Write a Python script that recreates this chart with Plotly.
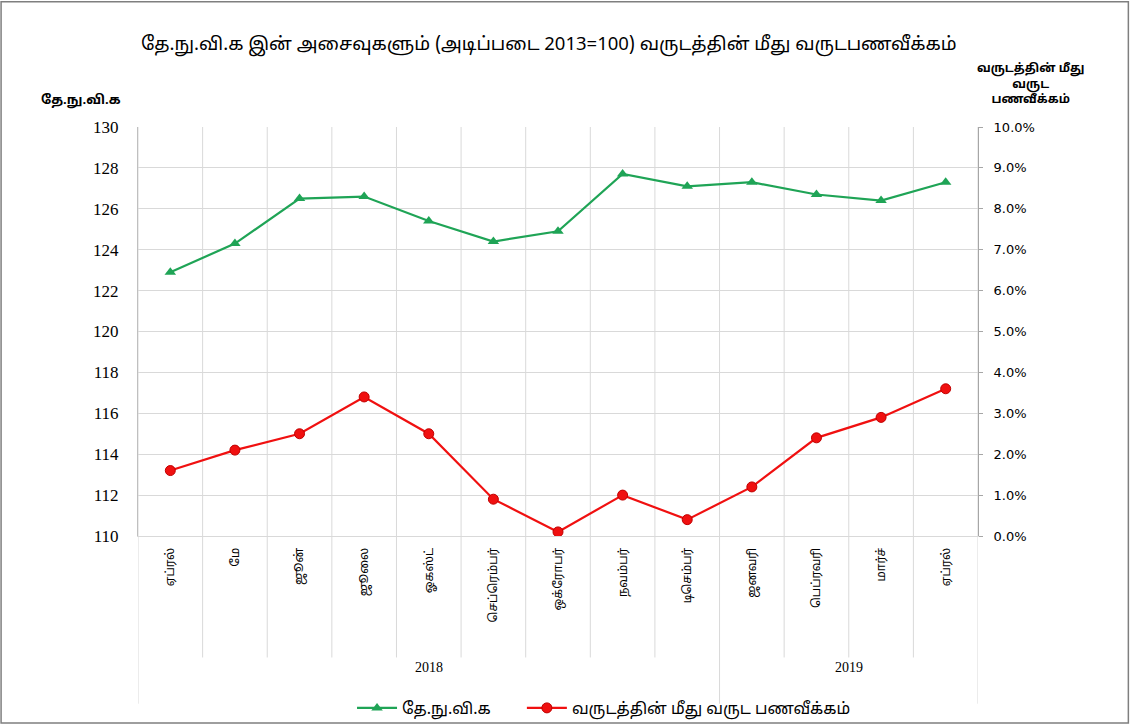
import plotly.graph_objects as go

months = ["ஏப்ரல்", "மே", "ஜூன்", "ஜூலை", "ஓகஸ்ட்", "செப்ரெம்பர்", "ஒக்ரோபர்",
          "நவம்பர்", "டிசெம்பர்", "ஜனவரி", "பெப்ரவரி", "மார்ச்", "ஏப்ரல்"]
years = ["2018"] * 9 + ["2019"] * 4
ccpi = [122.9, 124.3, 126.5, 126.6, 125.4, 124.4, 124.9, 127.7, 127.1, 127.3, 126.7, 126.4, 127.3]
yoy = [1.6, 2.1, 2.5, 3.4, 2.5, 0.9, 0.1, 1.0, 0.4, 1.2, 2.4, 2.9, 3.6]

title_text = "தே.நு.வி.க இன் அசைவுகளும் (அடிப்படை 2013=100) வருடத்தின் மீது வருடபணவீக்கம்"
left_title = "தே.நு.வி.க"
right_title = "வருடத்தின் மீது<br>வருட<br>பணவீக்கம்"
name1 = "தே.நு.வி.க"
name2 = "வருடத்தின் மீது வருட பணவீக்கம்"

GREEN = "#1FA456"
RED = "#F01010"
GRID = "#D9D9D9"
TAMIL = "Noto Sans Tamil, Latha, Noto Sans, sans-serif"
SERIF = "Liberation Serif, Times New Roman, serif"

x = list(range(len(months)))

fig = go.Figure()
fig.add_trace(go.Scatter(
    x=x, y=ccpi, name=name1, mode="lines+markers",
    line=dict(color=GREEN, width=2.2),
    marker=dict(symbol="triangle-up", size=10, color=GREEN),
    yaxis="y", legend="legend"))
fig.add_trace(go.Scatter(
    x=x, y=yoy, name=name2, mode="lines+markers",
    line=dict(color=RED, width=2.2),
    marker=dict(symbol="circle", size=10, color=RED, line=dict(color="#C00000", width=1)),
    yaxis="y2", legend="legend2"))

shapes = []
n = len(months)
for i in range(n + 1):
    xb = i - 0.5
    full = (i == 0) or (i == n) or (years[i - 1] != years[i] if 0 < i < n else False)
    shapes.append(dict(type="line", xref="x", yref="paper", x0=xb, x1=xb,
                       y0=1, y1=(-0.41 if full else -0.297),
                       line=dict(color=GRID, width=1), layer="below"))
# outer chart border
shapes.append(dict(type="rect", xref="paper", yref="paper",
                   x0=-0.163, x1=1.179, y0=-0.457, y1=1.306,
                   line=dict(color="#7F7F7F", width=1.5), fillcolor="rgba(0,0,0,0)"))

annotations = []
for yr in ["2018", "2019"]:
    idx = [i for i, v in enumerate(years) if v == yr]
    annotations.append(dict(x=(idx[0] + idx[-1]) / 2, y=-0.345, xref="x", yref="paper",
                            text=yr, showarrow=False,
                            font=dict(family=SERIF, size=14, color="#000")))
annotations.append(dict(x=-0.118, y=1.090, xref="paper", yref="paper", text="<b>" + left_title + "</b>",
                        showarrow=False, xanchor="left", font=dict(family=TAMIL, size=13, color="#000")))
annotations.append(dict(x=1.062, y=1.045, xref="paper", yref="paper", text="<b>" + right_title + "</b>",
                        showarrow=False, xanchor="center", yanchor="bottom", align="center",
                        font=dict(family=TAMIL, size=12, color="#000")))

legend_common = dict(orientation="h", y=-0.4205, yanchor="middle",
                     font=dict(family=TAMIL, size=16, color="#000"), itemwidth=40,
                     bgcolor="rgba(0,0,0,0)")

fig.update_layout(
    width=1134, height=727,
    margin=dict(l=138, r=156, t=127, b=191, autoexpand=False),
    paper_bgcolor="white", plot_bgcolor="white",
    title=dict(text=title_text, x=0.484, xanchor="center", y=0.9395, yanchor="middle",
               font=dict(family=TAMIL, size=18.5, color="#000")),
    xaxis=dict(range=[-0.5, n - 0.5], tickvals=x, ticktext=months, tickangle=-90,
               showgrid=False, zeroline=False, showline=True, linecolor=GRID,
               ticklabelstandoff=6,
               ticks="", tickfont=dict(family=TAMIL, size=12, color="#000")),
    yaxis=dict(range=[110, 130], dtick=2, showgrid=True, gridcolor=GRID, gridwidth=1,
               zeroline=False, showline=True, linecolor="#BFBFBF", ticklabelstandoff=15,
               tickfont=dict(family=SERIF, size=17, color="#000"), ticks=""),
    yaxis2=dict(range=[0, 10], dtick=1, overlaying="y", side="right",
                tickformat=".1f", ticksuffix="%", showgrid=False, zeroline=False,
                showline=True, linecolor="#A6A6A6", ticks="outside", ticklen=4, tickcolor="#A6A6A6",
                ticklabelstandoff=8,
                tickfont=dict(family="DejaVu Sans, sans-serif", size=13, color="#000")),
    legend=dict(x=0.2548, xanchor="left", **legend_common),
    legend2=dict(x=0.457, xanchor="left", **legend_common),
    shapes=shapes, annotations=annotations, showlegend=True,
)

fig.write_html("out.html", config={"displayModeBar": False},
               post_script="document.body.style.margin='0px';document.body.style.overflow='hidden';")
